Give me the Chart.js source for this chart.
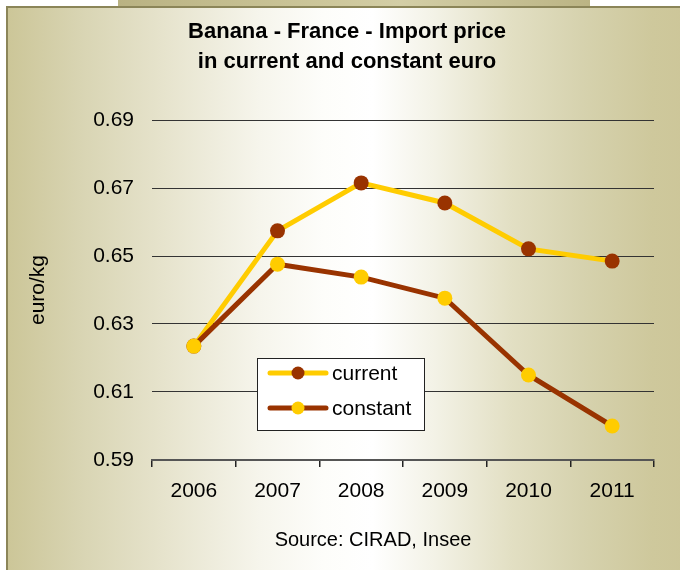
<!DOCTYPE html>
<html>
<head>
<meta charset="utf-8">
<script src="https://cdn.jsdelivr.net/npm/chart.js@4/dist/chart.umd.min.js"></script>
<style>
html, body { margin:0; padding:0; width:680px; height:570px; overflow:hidden; background:#ffffff; }
#strip { position:absolute; left:118px; top:0; width:472px; height:8px;
  background:linear-gradient(to right,#b9b282 0%,#cdc79b 45%,#d3cea6 60%,#bbb484 100%); }
#panel { position:absolute; left:6px; top:6px; width:700px; height:600px;
  border-left:2px solid #8b8558; border-top:2px solid #8b8558;
  background:linear-gradient(to right,#ccc698 0%,#d8d4b2 10%,#e6e3cc 22%,#f6f5ec 36%,#fdfdfa 45%,#ffffff 52%,#f3f2e6 61%,#e2dfc3 72%,#d6d2ae 82%,#cec89c 92%,#ccc597 100%); }
#wrap { position:absolute; left:0; top:0; width:680px; height:570px; }
</style>
</head>
<body>
<div id="strip"></div>
<div id="panel"></div>
<div id="wrap"><canvas id="c" width="680" height="570"></canvas></div>
<script>
// ---- data ----
const categories = ['2006', '2007', '2008', '2009', '2010', '2011'];
const currentPrice = [0.6235, 0.6574, 0.6715, 0.6656, 0.6521, 0.6485];
const constantPrice = [0.6235, 0.6476, 0.6438, 0.6376, 0.6150, 0.6000];
const seriesNames = ['current', 'constant'];
const yMin = 0.59, yMax = 0.69, yStep = 0.02;
const titleLines = ['Banana - France - Import price', 'in current and constant euro'];
const yAxisTitle = 'euro/kg';
const sourceText = 'Source: CIRAD, Insee';

const YELLOW = '#ffcc00';
const BROWN = '#993300';
const FONT = '"Liberation Sans", Arial, sans-serif';

const decorPlugin = {
  id: 'decor',
  afterDraw(chart) {
    const ctx = chart.ctx;
    ctx.save();
    ctx.fillStyle = '#000';
    ctx.textAlign = 'center';
    ctx.textBaseline = 'middle';
    ctx.font = 'bold 22px ' + FONT;
    titleLines.forEach((t, i) => ctx.fillText(t, 347, 32 + 30 * i));
    ctx.font = '20px ' + FONT;
    ctx.fillText(sourceText, 373, 540);

    // legend box
    const bx = 257, by = 358, bw = 167, bh = 72;
    ctx.fillStyle = '#ffffff';
    ctx.fillRect(bx, by, bw, bh);
    ctx.strokeStyle = '#222';
    ctx.lineWidth = 1;
    ctx.strokeRect(bx + 0.5, by + 0.5, bw, bh);
    const order = [0, 1];
    order.forEach((di, row) => {
      const ds = chart.data.datasets[di];
      const y = 373 + row * 35;
      ctx.strokeStyle = ds.borderColor;
      ctx.lineWidth = 5;
      ctx.lineCap = 'round';
      ctx.beginPath();
      ctx.moveTo(270, y);
      ctx.lineTo(326, y);
      ctx.stroke();
      ctx.fillStyle = ds.pointBackgroundColor;
      ctx.beginPath();
      ctx.arc(298, y, 6.5, 0, Math.PI * 2);
      ctx.fill();
      ctx.fillStyle = '#000';
      ctx.textAlign = 'left';
      ctx.font = '21px ' + FONT;
      ctx.fillText(ds.label, 332, y + 1);
    });
    ctx.restore();
  }
};

new Chart(document.getElementById('c'), {
  type: 'line',
  data: {
    labels: categories,
    datasets: [
      {
        label: seriesNames[0], data: currentPrice,
        borderColor: YELLOW, borderWidth: 5,
        pointBackgroundColor: BROWN, pointBorderWidth: 0, pointRadius: 7.5,
        tension: 0, order: 1
      },
      {
        label: seriesNames[1], data: constantPrice,
        borderColor: BROWN, borderWidth: 5,
        pointBackgroundColor: YELLOW, pointBorderWidth: 0, pointRadius: 7.5,
        tension: 0, order: 0
      }
    ]
  },
  options: {
    responsive: false,
    animation: false,
    devicePixelRatio: 1,
    layout: { padding: { left: 0, top: 120, right: 26, bottom: 0 } },
    plugins: { legend: { display: false }, title: { display: false }, tooltip: { enabled: false } },
    scales: {
      y: {
        min: yMin, max: yMax,
        ticks: { stepSize: yStep, callback: v => v.toFixed(2), color: '#000', font: { family: FONT, size: 21 }, padding: 18 },
        grid: { color: '#333', lineWidth: 1, drawTicks: false },
        border: { display: false },
        title: { display: true, text: yAxisTitle, color: '#000', font: { family: FONT, size: 21 }, padding: { top: 26, bottom: 0 } },
        afterFit: s => { s.width = 152; }
      },
      x: {
        offset: true,
        ticks: { color: '#000', font: { family: FONT, size: 21 }, padding: 12 },
        grid: { offset: true, drawOnChartArea: false, drawTicks: true, tickLength: 7, color: '#222', lineWidth: 1.5 },
        border: { display: true, color: '#555', width: 2 },
        afterFit: s => { s.height = 110; }
      }
    }
  },
  plugins: [decorPlugin]
});
</script>
</body>
</html>
